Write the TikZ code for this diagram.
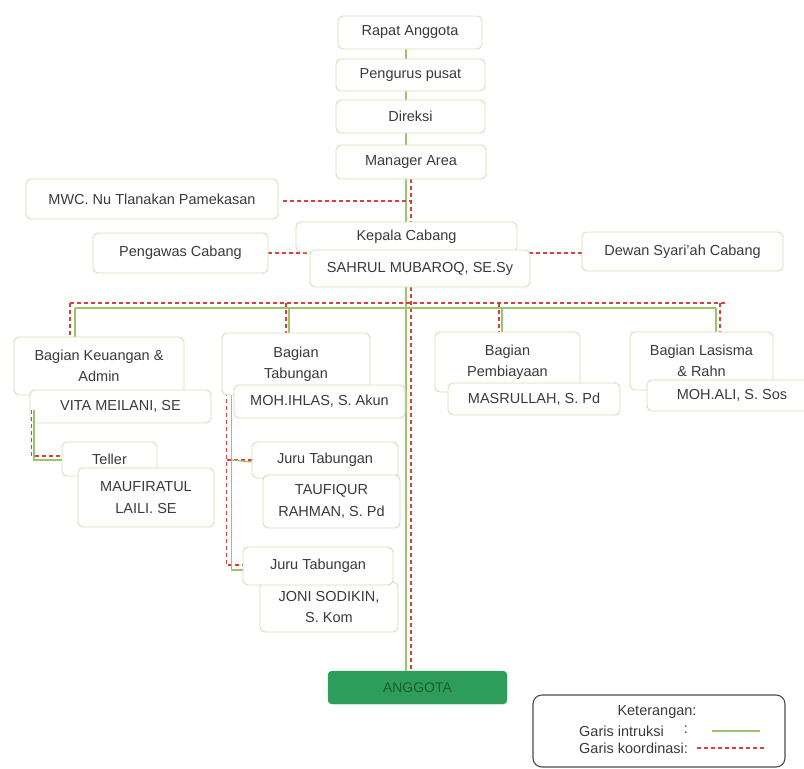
\documentclass[tikz,border=0pt]{standalone}
\usepackage{fontspec}
\setmainfont{Liberation Sans}
\usetikzlibrary{backgrounds,calc}
\definecolor{boxc}{HTML}{D3DFB6}
\definecolor{instrc}{HTML}{9DC46A}
\definecolor{koordc}{HTML}{D8403C}
\definecolor{txtc}{HTML}{3A3A3A}
\definecolor{angc}{HTML}{2E9C5B}
\definecolor{angt}{HTML}{1B5E34}
\begin{document}
\begin{tikzpicture}[x=1pt,y=-1pt,
  bx/.style={draw=boxc,fill=white,line width=0.9pt,rounded corners=5pt,
    minimum width=#1,inner sep=0pt,align=center,text=txtc,
    font=\fontsize{14.5}{21.5}\selectfont},
  instr/.style={draw=instrc,line width=1.2pt},
  koord/.style={draw=koordc,line width=1.2pt,dash pattern=on 4pt off 3pt},
  lbl/.style={inner sep=0pt,text=txtc,font=\fontsize{14.5}{17}\selectfont}]
\clip (0,0) rectangle (804,769);
\useasboundingbox (0,0) rectangle (804,769);
\coordinate (gx) at (406,0);
\coordinate (rx) at (411,0);
% top column
\node[bx=144pt,minimum height=33pt] (rapat) at (410,32.5) {Rapat Anggota};
\node[bx=149pt,minimum height=32pt] (pengurus) at (410.5,75) {Pengurus pusat};
\node[bx=149pt,minimum height=33pt] (direksi) at (410.5,116.5) {Direksi};
\node[bx=150pt,minimum height=34pt] (manager) at (411,162) {Manager Area};
\node[bx=252pt,minimum height=40pt] (mwc) at (152,199) {MWC. Nu Tlanakan Pamekasan};
\node[bx=221pt,minimum height=30pt] (kepala) at (406.5,237) {Kepala Cabang};
\node[bx=220pt,minimum height=37pt] (sahrul) at (420,268.5) {SAHRUL MUBAROQ, SE.Sy};
\node[bx=175pt,minimum height=40pt] (pengawas) at (180.5,253) {Pengawas Cabang};
\node[bx=201pt,minimum height=39pt] (dewan) at (682.5,251.5) {Dewan Syari'ah Cabang};
% keuangan
\node[bx=170pt,minimum height=58pt] (keu) at (99,366) {Bagian Keuangan \&\\Admin};
\node[bx=181pt,minimum height=33pt] (vita) at (120.5,406.5) {VITA MEILANI, SE};
\node[bx=95pt,minimum height=34pt] (teller) at (109.5,459) {Teller};
\node[bx=136pt,minimum height=59pt] (mauf) at (146,497.5) {MAUFIRATUL\\LAILI. SE};
% tabungan
\node[bx=148pt,minimum height=62pt] (tab) at (296,364) {Bagian\\Tabungan};
\node[bx=171pt,minimum height=33pt] (ihlas) at (319.5,401.5) {MOH.IHLAS, S. Akun};
\node[bx=146pt,minimum height=36pt] (juru1) at (325,460) {Juru Tabungan};
\node[bx=137pt,minimum height=53pt] (taufiq) at (331.5,501.5) {TAUFIQUR\\RAHMAN, S. Pd};
\node[bx=138pt,minimum height=50pt] (joni) at (329,607) {JONI SODIKIN,\\S. Kom};
\node[bx=150pt,minimum height=38pt] (juru2) at (318,566) {Juru Tabungan};
% pembiayaan
\node[bx=145pt,minimum height=60pt] (pemb) at (507.5,362) {Bagian\\Pembiayaan};
\node[bx=172pt,minimum height=32pt] (masrul) at (534,399) {MASRULLAH, S. Pd};
% lasisma
\node[bx=143pt,minimum height=58pt] (lasis) at (701.5,361) {Bagian Lasisma\\\& Rahn};
\node[bx=170pt,minimum height=31pt] (ali) at (732,395.5) {MOH.ALI, S. Sos};
% anggota
\node[fill=angc,draw=angc,rounded corners=4pt,minimum width=179pt,minimum height=33pt,
  inner sep=0pt,text=angt,font=\fontsize{14}{17}\selectfont] (anggota) at (417.5,687.5) {ANGGOTA};
% legend
\node[draw=black!70,line width=1.1pt,rounded corners=9pt,minimum width=252pt,
  minimum height=72pt,inner sep=0pt] (legend) at (659,731) {};
\node[lbl] (ket) at (657,712) {Keterangan:};
\node[lbl,anchor=west] (gi) at (579,731) {Garis intruksi};
\node[lbl] (gic) at (686,730) {:};
\node[lbl,anchor=west] (gk) at (579,748) {Garis koordinasi:};
\coordinate (li1) at (712,731);
\coordinate (li2) at (760,731);
\coordinate (lk1) at (697,748);
\coordinate (lk2) at (767,748);
\draw[instr] (li1) -- (li2);
\draw[koord] (lk1) -- (lk2);
% connectors
\begin{scope}[on background layer]
\draw[instr] (rapat.south -| gx) -- (pengurus.north -| gx);
\draw[instr] (pengurus.south -| gx) -- (direksi.north -| gx);
\draw[instr] (direksi.south -| gx) -- (manager.north -| gx);
\draw[instr] (manager.south -| gx) -- (kepala.north -| gx);
\draw[koord] (manager.south -| rx) -- (kepala.north -| rx);
\draw[koord] ([xshift=5pt,yshift=-2pt]mwc.east) -- ([yshift=-2pt]mwc.east -| rx);
\draw[koord] (pengawas.east) -- (pengawas.east -| sahrul.west);
\draw[koord] ([yshift=-1.5pt]dewan.west) -- ([yshift=-1.5pt]dewan.west -| kepala.east);
\draw[instr] (sahrul.south -| gx) -- (anggota.north -| gx);
\draw[koord] (sahrul.south -| rx) -- (anggota.north -| rx);
% bus
\coordinate (rb1) at (70,303);
\coordinate (rb2) at (728,303);
\coordinate (gb1) at (75,308);
\coordinate (gb2) at (716,308);
\draw[koord] (rb1) -- (rb2);
\draw[instr] (gb1) -- (gb2);
\draw[koord] (rb1) -- (rb1 |- keu.north);
\draw[instr] (gb1) -- (gb1 |- keu.north);
\draw[koord] (286,303) coordinate (rt) -- (rt |- tab.north);
\draw[instr] (289,308) coordinate (gt) -- (gt |- tab.north);
\draw[koord] (499,303) coordinate (rp) -- (rp |- pemb.north);
\draw[instr] (502,308) coordinate (gp) -- (gp |- pemb.north);
\draw[koord] (720,303) coordinate (rl) -- (rl |- lasis.north);
\draw[instr] (gb2) -- (gb2 |- lasis.north);
\end{scope}
% side connectors (drawn on top like the reference)
\draw[koord] ([xshift=2pt,yshift=-3.5pt]vita.west) |- ([yshift=3pt]teller.west);
\draw[instr] ([xshift=4.5pt,yshift=-3.5pt]vita.west) |- ([yshift=-1pt]teller.west);
\coordinate (tl) at ([xshift=-7pt]ihlas.north west);
\coordinate (tg) at ([xshift=-2pt]ihlas.north west);
\begin{scope}[on background layer]
\draw[koord] (tl) |- ([yshift=1pt]juru2.west);
\draw[koord] (tl |- juru1.west) -- (juru1.west);
\draw[instr] (tg) |- ([yshift=-4pt]juru2.west);
\draw[instr] (tg |- juru1.west) -- ([yshift=-2pt]juru1.west);
\end{scope}
\end{tikzpicture}
\end{document}
